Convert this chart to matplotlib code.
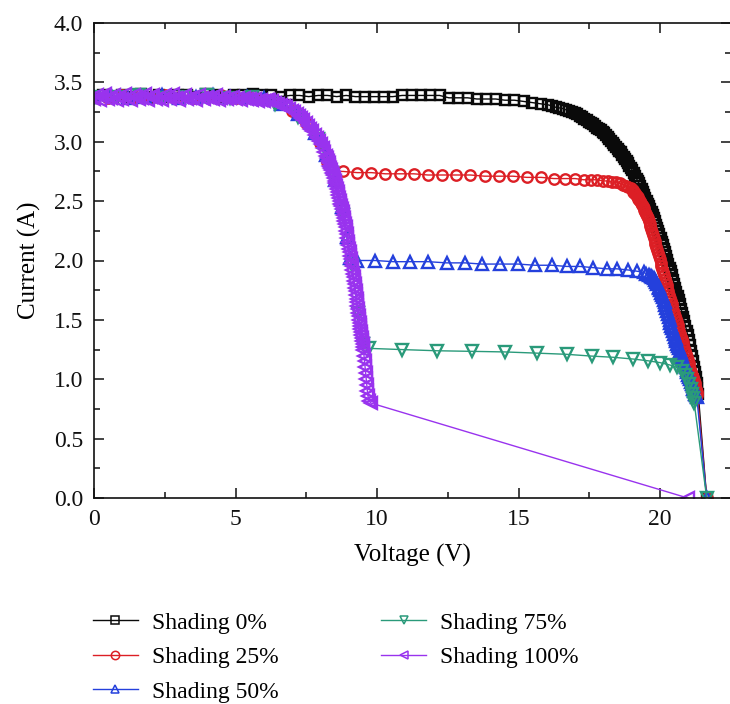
import matplotlib
matplotlib.use("Agg")
import matplotlib.pyplot as plt
from matplotlib.ticker import MultipleLocator

plt.rcParams['font.family'] = ['Liberation Serif', 'DejaVu Serif']

labels = ["Shading 0%", "Shading 25%", "Shading 50%", "Shading 75%", "Shading 100%"]

black_v = [0.00, 0.33, 0.66, 0.99, 1.32, 1.65, 1.98, 2.31, 2.64, 2.97,
           3.30, 3.63, 3.96, 4.29, 4.62, 4.95, 5.28, 5.61, 5.94, 6.27,
           6.60, 6.93, 7.26, 7.59, 7.92, 8.25, 8.58, 8.91, 9.24, 9.57,
           9.90, 10.23, 10.56, 10.89, 11.22, 11.55, 11.88, 12.21, 12.54, 12.87,
           13.20, 13.53, 13.86, 14.19, 14.52, 14.85, 15.18, 15.48, 15.78,
           16.06, 16.20, 16.32, 16.44, 16.56, 16.67, 16.78, 16.88, 16.98, 17.07,
           17.16, 17.25, 17.33, 17.41, 17.49, 17.57, 17.64, 17.71, 17.78, 17.85,
           17.91, 17.97, 18.03, 18.09, 18.15, 18.21, 18.27, 18.33, 18.39, 18.45,
           18.50, 18.56, 18.61, 18.67, 18.72, 18.77, 18.82, 18.87, 18.92, 18.97,
           19.02, 19.07, 19.12, 19.17, 19.21, 19.26, 19.30, 19.35, 19.39, 19.44,
           19.48, 19.53, 19.57, 19.62, 19.66, 19.70, 19.74, 19.78, 19.82, 19.86,
           19.90, 19.94, 19.98, 20.02, 20.06, 20.10, 20.14, 20.18, 20.22, 20.26,
           20.30, 20.34, 20.38, 20.42, 20.46, 20.50, 20.54, 20.58, 20.62, 20.66,
           20.70, 20.74, 20.78, 20.82, 20.86, 20.90, 20.94, 20.98, 21.02, 21.06,
           21.10, 21.135, 21.17, 21.205, 21.24, 21.27, 21.30, 21.325, 21.35, 21.65]
black_i = [3.37, 3.39, 3.38, 3.39, 3.38, 3.40, 3.38, 3.39, 3.38, 3.39,
           3.39, 3.38, 3.40, 3.39, 3.38, 3.39, 3.39, 3.40, 3.39, 3.39,
           3.38, 3.39, 3.39, 3.38, 3.39, 3.39, 3.38, 3.39, 3.38, 3.38,
           3.38, 3.38, 3.38, 3.39, 3.39, 3.39, 3.39, 3.39, 3.37, 3.37,
           3.37, 3.36, 3.36, 3.36, 3.35, 3.35, 3.34, 3.33, 3.32,
           3.31, 3.30, 3.29, 3.285, 3.28, 3.27, 3.26, 3.25, 3.24, 3.23,
           3.22, 3.205, 3.19, 3.18, 3.17, 3.16, 3.15, 3.135, 3.12, 3.11,
           3.10, 3.085, 3.07, 3.055, 3.04, 3.025, 3.01, 2.99, 2.97, 2.955,
           2.94, 2.925, 2.91, 2.89, 2.87, 2.855, 2.84, 2.82, 2.80, 2.78,
           2.76, 2.735, 2.71, 2.69, 2.67, 2.65, 2.63, 2.605, 2.58, 2.555,
           2.53, 2.505, 2.48, 2.455, 2.43, 2.405, 2.38, 2.355, 2.33, 2.30,
           2.27, 2.245, 2.22, 2.19, 2.16, 2.13, 2.10, 2.07, 2.04, 2.005,
           1.97, 1.94, 1.91, 1.875, 1.84, 1.805, 1.77, 1.735, 1.70, 1.665,
           1.63, 1.595, 1.56, 1.525, 1.49, 1.45, 1.41, 1.37, 1.33, 1.285,
           1.24, 1.195, 1.15, 1.105, 1.06, 1.015, 0.97, 0.925, 0.88, 0.00]

red_v = [0.00, 0.50, 1.00, 1.50, 2.00, 2.50, 3.00, 3.50, 4.00, 4.50,
         5.00, 5.50, 6.00, 6.50, 7.00, 7.50, 8.00, 8.25, 8.40,
         8.80, 9.30, 9.80, 10.30, 10.80, 11.30, 11.80, 12.30, 12.80, 13.30, 13.80,
         14.30, 14.80, 15.30, 15.80, 16.25, 16.65, 17.00, 17.30, 17.55, 17.78,
         17.98, 18.16, 18.32, 18.46, 18.58, 18.69, 18.79, 18.88, 18.96,
         19.03, 19.06, 19.09, 19.12, 19.15, 19.18, 19.21, 19.24, 19.27, 19.30,
         19.33, 19.36, 19.39, 19.42, 19.45, 19.48, 19.51, 19.54, 19.57, 19.60,
         19.63, 19.66, 19.69, 19.72, 19.75, 19.78, 19.81, 19.84, 19.87, 19.90,
         19.93, 19.96, 19.99, 20.02, 20.05, 20.08, 20.11, 20.14, 20.17, 20.20,
         20.23, 20.26, 20.29, 20.32, 20.35, 20.38, 20.41, 20.44, 20.47, 20.50,
         20.53, 20.56, 20.59, 20.62, 20.65, 20.68, 20.71, 20.74, 20.77, 20.80,
         20.83, 20.86, 20.89, 20.92, 20.95, 20.98, 21.01, 21.04, 21.07, 21.10,
         21.13, 21.16, 21.19, 21.22, 21.25, 21.28, 21.30, 21.32, 21.65]
red_i = [3.38, 3.37, 3.39, 3.38, 3.37, 3.39, 3.38, 3.37, 3.38, 3.39,
         3.37, 3.38, 3.36, 3.32, 3.26, 3.16, 2.99, 2.83, 2.75,
         2.75, 2.74, 2.74, 2.73, 2.73, 2.73, 2.72, 2.72, 2.72, 2.72, 2.71,
         2.71, 2.71, 2.70, 2.70, 2.69, 2.69, 2.69, 2.68, 2.68, 2.68,
         2.67, 2.67, 2.66, 2.66, 2.65, 2.64, 2.63, 2.62, 2.61,
         2.59, 2.58, 2.57, 2.565, 2.555, 2.545, 2.535, 2.52, 2.51, 2.50,
         2.485, 2.47, 2.455, 2.44, 2.425, 2.41, 2.39, 2.375, 2.355, 2.335,
         2.31, 2.29, 2.265, 2.24, 2.215, 2.19, 2.165, 2.14, 2.115, 2.09,
         2.06, 2.035, 2.01, 1.98, 1.955, 1.93, 1.90, 1.875, 1.845, 1.82,
         1.79, 1.765, 1.74, 1.71, 1.685, 1.66, 1.635, 1.61, 1.585, 1.56,
         1.535, 1.51, 1.485, 1.46, 1.435, 1.41, 1.385, 1.36, 1.335, 1.31,
         1.29, 1.265, 1.24, 1.215, 1.19, 1.165, 1.14, 1.115, 1.09, 1.065,
         1.04, 1.015, 0.99, 0.965, 0.94, 0.915, 0.89, 0.87, 0.00]

blue_v = [0.00, 0.60, 1.20, 1.80, 2.40, 3.00, 3.60, 4.20, 4.80, 5.40,
          6.00, 6.60, 7.20, 7.80, 8.20, 8.50, 8.75, 8.95, 9.06, 9.28,
          9.93, 10.58, 11.17, 11.81, 12.46, 13.11, 13.70, 14.35, 14.99, 15.58,
          16.17, 16.70, 17.17, 17.64, 18.12, 18.47, 18.88, 19.18,
          19.42, 19.52, 19.60, 19.67, 19.73, 19.78, 19.83, 19.87, 19.91, 19.95,
          19.98, 20.01, 20.04, 20.07, 20.10, 20.13, 20.16, 20.19, 20.22, 20.25,
          20.28, 20.31, 20.34, 20.37, 20.40, 20.43, 20.46, 20.49, 20.52, 20.55,
          20.58, 20.61, 20.64, 20.67, 20.70, 20.73, 20.76, 20.79, 20.82, 20.85,
          20.88, 20.91, 20.94, 20.97, 21.00, 21.03, 21.06, 21.09, 21.12, 21.15,
          21.18, 21.21, 21.24, 21.27, 21.30, 21.65]
blue_i = [3.38, 3.39, 3.37, 3.38, 3.39, 3.37, 3.38, 3.39, 3.38, 3.38,
          3.37, 3.32, 3.23, 3.07, 2.89, 2.68, 2.45, 2.20, 2.02, 2.00,
          2.00, 1.99, 1.99, 1.99, 1.98, 1.98, 1.97, 1.97, 1.97, 1.96,
          1.96, 1.95, 1.95, 1.94, 1.93, 1.93, 1.92, 1.91,
          1.90, 1.89, 1.88, 1.87, 1.86, 1.85, 1.835, 1.82, 1.80, 1.78,
          1.765, 1.75, 1.73, 1.71, 1.69, 1.67, 1.65, 1.625, 1.60, 1.575,
          1.55, 1.525, 1.50, 1.475, 1.45, 1.43, 1.405, 1.385, 1.36, 1.34,
          1.32, 1.30, 1.28, 1.26, 1.24, 1.22, 1.20, 1.18, 1.16, 1.14,
          1.12, 1.10, 1.08, 1.06, 1.04, 1.02, 1.00, 0.98, 0.96, 0.94,
          0.92, 0.90, 0.88, 0.865, 0.85, 0.00]

green_v = [0.00, 0.80, 1.60, 2.40, 3.20, 4.00, 4.80, 5.60, 6.40, 7.20,
           7.90, 8.40, 8.80, 9.10, 9.34, 9.49, 9.72, 10.87, 12.11, 13.34,
           14.52, 15.64, 16.70, 17.58, 18.35, 19.06, 19.59, 20.00, 20.35, 20.59,
           20.77, 20.88, 20.96, 21.02, 21.08, 21.13, 21.17, 21.21, 21.65]
green_i = [3.38, 3.38, 3.39, 3.37, 3.38, 3.39, 3.37, 3.38, 3.32, 3.21,
           3.02, 2.74, 2.38, 1.96, 1.56, 1.30, 1.26, 1.25, 1.24, 1.235,
           1.23, 1.22, 1.21, 1.195, 1.185, 1.17, 1.155, 1.14, 1.12, 1.10,
           1.07, 1.04, 1.00, 0.96, 0.92, 0.88, 0.84, 0.80, 0.00]

purple_v = [0.0, 0.1, 0.2, 0.3, 0.4, 0.5, 0.6, 0.7, 0.8, 0.9,
            1.0, 1.1, 1.2, 1.3, 1.4, 1.5, 1.6, 1.7, 1.8, 1.9,
            2.0, 2.1, 2.2, 2.3, 2.4, 2.5, 2.6, 2.7, 2.8, 2.9,
            3.0, 3.1, 3.2, 3.3, 3.4, 3.5, 3.6, 3.7, 3.8, 3.9,
            4.0, 4.1, 4.2, 4.3, 4.4, 4.5, 4.6, 4.7, 4.8, 4.9,
            5.0, 5.1, 5.2, 5.3, 5.4, 5.5, 5.6, 5.7, 5.8, 5.9,
            6.00, 6.10, 6.20, 6.30, 6.40, 6.50, 6.60, 6.70, 6.80, 6.90,
            7.00, 7.08, 7.16, 7.24, 7.32, 7.40, 7.48, 7.56, 7.64, 7.72,
            7.80, 7.87, 7.94, 8.01, 8.08, 8.14, 8.20, 8.23, 8.26, 8.29,
            8.32, 8.35, 8.38, 8.41, 8.44, 8.47, 8.50, 8.53, 8.56, 8.585,
            8.61, 8.635, 8.66, 8.685, 8.71, 8.735, 8.76, 8.785, 8.81, 8.83,
            8.85, 8.87, 8.89, 8.91, 8.93, 8.95, 8.97, 8.99, 9.01, 9.03,
            9.05, 9.07, 9.09, 9.11, 9.13, 9.15, 9.17, 9.19, 9.21, 9.23,
            9.25, 9.265, 9.28, 9.295, 9.31, 9.325, 9.34, 9.355, 9.37, 9.385,
            9.40, 9.415, 9.43, 9.445, 9.46, 9.475, 9.49, 9.505, 9.52, 9.54,
            9.56, 9.58, 9.60, 9.62, 9.64, 9.66, 9.68, 9.72, 9.78, 20.98]
purple_i = [3.36, 3.39, 3.35, 3.38, 3.40, 3.36, 3.37, 3.39, 3.35, 3.38,
            3.36, 3.40, 3.37, 3.35, 3.39, 3.38, 3.36, 3.37, 3.40, 3.35,
            3.38, 3.39, 3.36, 3.37, 3.35, 3.39, 3.38, 3.36, 3.40, 3.37,
            3.35, 3.38, 3.39, 3.36, 3.37, 3.38, 3.35, 3.39, 3.37, 3.36,
            3.38, 3.37, 3.36, 3.39, 3.35, 3.37, 3.38, 3.36, 3.37, 3.38,
            3.36, 3.37, 3.35, 3.37, 3.36, 3.36, 3.35, 3.36, 3.34, 3.35,
            3.34, 3.35, 3.35, 3.34, 3.33, 3.32, 3.31, 3.30, 3.29, 3.28,
            3.26, 3.25, 3.23, 3.22, 3.20, 3.18, 3.16, 3.13, 3.11, 3.09,
            3.06, 3.03, 3.01, 2.98, 2.95, 2.91, 2.88, 2.86, 2.84, 2.82,
            2.80, 2.78, 2.76, 2.74, 2.72, 2.695, 2.67, 2.65, 2.63, 2.605,
            2.58, 2.555, 2.53, 2.505, 2.48, 2.455, 2.43, 2.405, 2.38, 2.355,
            2.33, 2.305, 2.28, 2.25, 2.22, 2.19, 2.16, 2.13, 2.10, 2.07,
            2.04, 2.01, 1.98, 1.95, 1.92, 1.89, 1.86, 1.83, 1.80, 1.77,
            1.74, 1.71, 1.68, 1.65, 1.62, 1.59, 1.56, 1.53, 1.50, 1.475,
            1.45, 1.425, 1.40, 1.375, 1.35, 1.325, 1.30, 1.275, 1.25, 1.20,
            1.15, 1.10, 1.05, 1.00, 0.95, 0.90, 0.86, 0.82, 0.80, 0.00]

x_ticks = [0, 5, 10, 15, 20]
y_ticks = [0.0, 0.5, 1.0, 1.5, 2.0, 2.5, 3.0, 3.5, 4.0]

series = [
    (black_v, black_i, '#0a0a0a', 's', 7.0),
    (red_v, red_i, '#dc1f25', 'o', 7.5),
    (blue_v, blue_i, '#2440dc', '^', 8.5),
    (green_v, green_i, '#2a9a7a', 'v', 8.5),
    (purple_v, purple_i, '#9933ee', '<', 8.5),
]

W, H = 730, 704
fig = plt.figure(figsize=(W / 100, H / 100), dpi=100)
ax = fig.add_axes([94 / W, 206 / H, 636.75 / W, 475 / H])

handles = []
for (v, i, c, m, ms), lab in zip(series, labels):
    h, = ax.plot(v, i, color=c, lw=1.0, marker=m, ms=ms, mfc='none',
                 mec=c, mew=1.7, label=lab)
    handles.append(h)

ax.set_xlim(0, 22.5)
ax.set_ylim(0, 4.0)
ax.set_xticks(x_ticks)
ax.set_xticklabels([str(t) for t in x_ticks])
ax.set_yticks(y_ticks)
ax.set_yticklabels([f"{t:.1f}" for t in y_ticks])
ax.xaxis.set_minor_locator(MultipleLocator(2.5))
ax.yaxis.set_minor_locator(MultipleLocator(0.25))
ax.tick_params(which='both', direction='in', top=True, right=True,
               labelsize=17, width=1.1, colors='#111111')
ax.tick_params(which='major', length=7, pad=8)
ax.tick_params(which='minor', length=4)
for s in ax.spines.values():
    s.set_linewidth(1.2)
    s.set_color('#111111')

ax.set_xlabel("Voltage (V)", fontsize=18, labelpad=10)
ax.set_ylabel("Current (A)", fontsize=18, labelpad=9)

leg = fig.legend(handles=handles, labels=labels, ncol=2, frameon=False,
                 loc='upper left', bbox_to_anchor=(93 / W, 1 - 612 / H),
                 fontsize=17, handlelength=1.9, handletextpad=0.6,
                 columnspacing=4.35, labelspacing=0.55, borderpad=0,
                 borderaxespad=0)
for lh in leg.legend_handles:
    lh.set_markersize(6)
    lh.set_markeredgewidth(1.1)

fig.savefig("out.png", dpi=100)
